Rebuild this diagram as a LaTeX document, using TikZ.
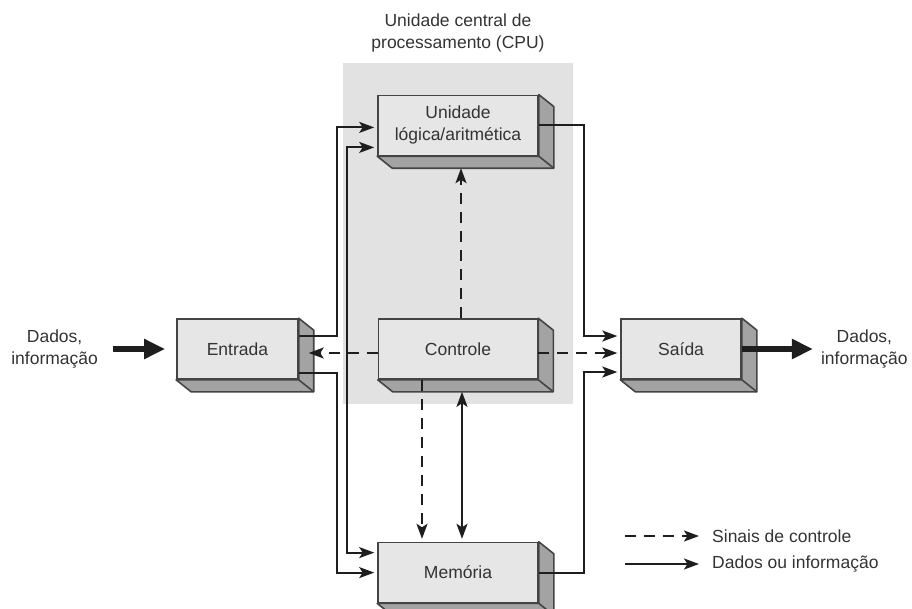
\documentclass[tikz,border=0pt]{standalone}
\usepackage{fontspec}
\setmainfont{Liberation Sans}
\usetikzlibrary{positioning, arrows.meta, calc}
\definecolor{fundocpu}{HTML}{E2E2E2}
\definecolor{frente}{HTML}{E6E6E6}
\definecolor{lateral}{HTML}{A3A3A3}
\definecolor{borda}{HTML}{444444}
\definecolor{linha}{HTML}{1E1E1E}
\definecolor{texto}{HTML}{333333}

\tikzset{
  ponta/.tip={Stealth[length=15pt, width=11pt, inset=3.5pt]},
  bloco/.style={draw=borda, line width=1.6pt, fill=frente, minimum height=60pt,
                inner sep=0pt, align=center, text=texto,
                font=\fontsize{17.5}{22}\selectfont},
  rotulo/.style={inner sep=0pt, align=center, text=texto,
                 font=\fontsize{17.5}{22.5}\selectfont},
  dado/.style={draw=linha, line width=2pt, -ponta, shorten >=3pt},
  sinal/.style={dado, dash pattern=on 11pt off 8pt},
  grosso/.style={draw=linha, line width=6.5pt, -{Triangle[length=21pt, width=19pt]}},
}

% faces laterais e de baixo de um bloco
\newcommand{\profundidade}[1]{%
  \filldraw[fill=lateral, draw=borda, line width=1.6pt, line join=round]
    (#1.north east) -- ++(15,12) -- ($(#1.south east)+(15,12)$)
    -- ($(#1.south west)+(15,12)$) -- (#1.south west) -- (#1.south east) -- cycle;
  \draw[borda, line width=1.6pt] (#1.south east) -- ++(15,12);
}

\begin{document}
\begin{tikzpicture}[x=1pt, y=-1pt]
  \useasboundingbox (0,0) rectangle (912,608);

  % area da CPU
  \node (cpu) [fill=fundocpu, minimum width=230pt, minimum height=341pt, inner sep=0pt] at (458,233.5) {};
  \node[rotulo, above=10pt of cpu] (cpurot) {Unidade central de\\processamento (CPU)};

  % blocos
  \node[bloco, minimum width=159pt] (controle) at (458,349) {Controle};
  \node[bloco, minimum width=160pt, above=162pt of controle] (ula) {Unidade\\lógica/aritmética};
  \node[bloco, minimum width=160pt, below=162pt of controle] (memoria) {Memória};
  \node[bloco, minimum width=121pt, left=79pt of controle] (entrada) {Entrada};
  \node[bloco, minimum width=120pt, right=82pt of controle] (saida) {Saída};
  \profundidade{ula}
  \profundidade{controle}
  \profundidade{memoria}
  \profundidade{entrada}
  \profundidade{saida}

  % entrada e saida de dados
  \node[rotulo, left=78pt of entrada] (dadosent) {Dados,\\informação};
  \node[rotulo, right=79pt of saida] (dadossai) {Dados,\\informação};
  \draw[grosso] ([xshift=15pt]dadosent.east) -- ([xshift=-11pt]entrada.west);
  \draw[grosso] (saida.east) -- ([xshift=-8pt]dadossai.west);

  % caminhos de dados
  \draw[dado] ([yshift=13pt]entrada.east) -| ([xshift=-40pt,yshift=-2pt]ula.west) -- ([yshift=-2pt]ula.west);
  \draw[dado] ([yshift=-24pt]entrada.east) -| ([xshift=-40pt]memoria.west) -- (memoria.west);
  \draw[dado, ponta-ponta, shorten <=3pt] ([yshift=-22pt]ula.west) -| ([xshift=-30pt,yshift=20pt]memoria.west) -- ([yshift=20pt]memoria.west);
  \draw[dado] (ula.east) -| ([xshift=-36pt,yshift=13pt]saida.west) -- ([yshift=13pt]saida.west);
  \draw[dado] (memoria.east) -| ([xshift=-36pt,yshift=-23pt]saida.west) -- ([yshift=-23pt]saida.west);
  \draw[dado, ponta-ponta, shorten <=3pt] ([xshift=4pt,yshift=-9pt]controle.south) -- ([xshift=4pt]memoria.north);

  % sinais de controle
  \draw[sinal] ([yshift=-4pt]controle.west) -- ([xshift=7pt,yshift=-4pt]entrada.east);
  \draw[sinal] ([yshift=-4pt]controle.east) -- ([yshift=-4pt]saida.west);
  \draw[sinal] ([xshift=3pt]controle.north) -- ([xshift=3pt,yshift=-9pt]ula.south);
  \draw[sinal] ([xshift=-36pt]controle.south) -- ([xshift=-36pt]memoria.north);

  % legenda
  \node[rotulo, anchor=west] (legsinal) at (712,536) {Sinais de controle};
  \node[rotulo, anchor=west] (legdado) at (712,564) {Dados ou informação};
  \draw[sinal] ([xshift=-87pt]legsinal.west) -- ([xshift=-10pt]legsinal.west);
  \draw[dado] ([xshift=-87pt]legdado.west) -- ([xshift=-10pt]legdado.west);
\end{tikzpicture}
\end{document}
